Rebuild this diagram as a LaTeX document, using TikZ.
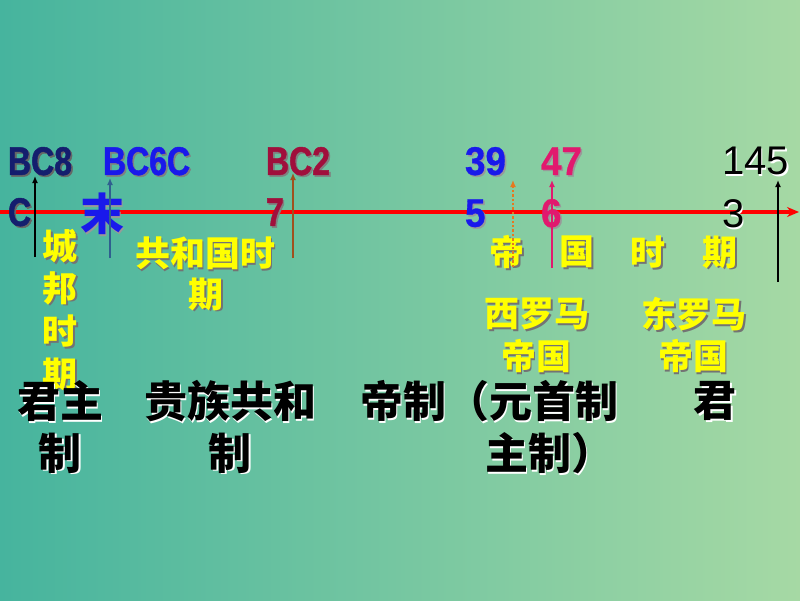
\documentclass[tikz,border=0pt]{standalone}
\usepackage{fontspec}
\setmainfont{Liberation Sans}
\newfontfamily\cjk{Noto Sans CJK SC}
\newfontfamily\latb{Liberation Sans}[FakeStretch=0.8,FakeBold=1.2]
\newfontfamily\latn{Liberation Sans}[FakeStretch=0.92,FakeBold=0.8]
\usetikzlibrary{arrows.meta}
\definecolor{bgl}{RGB}{70,180,158}
\definecolor{bgr}{RGB}{166,217,164}
\definecolor{yl}{RGB}{255,255,0}
\definecolor{navy}{RGB}{20,30,110}
\definecolor{bblue}{RGB}{25,25,235}
\definecolor{dcrim}{RGB}{160,15,60}
\definecolor{pink}{RGB}{225,25,110}
\definecolor{slate}{RGB}{47,95,143}
\definecolor{brn}{RGB}{160,80,30}
\definecolor{orng}{RGB}{230,120,32}
\newcommand\shd[2]{\makebox[0pt][l]{\kern1.6pt\raisebox{-1.6pt}{\color{#1}#2}}#2}
\tikzset{
  lbl/.style={inner sep=0pt, outer sep=0pt},
  bcnum/.style={lbl, anchor=west, font=\latb\bfseries\fontsize{40}{40}\selectfont},
  dnum/.style={lbl, anchor=west, font=\latn\bfseries\fontsize{40}{40}\selectfont},
  rnum/.style={lbl, anchor=west, font=\fontsize{40}{40}\selectfont},
  yel/.style={lbl, text=yl, font=\cjk\bfseries\fontsize{35}{35}\selectfont},
  blk/.style={lbl, text=black, font=\cjk\bfseries\fontsize{43}{43}\selectfont},
  tick/.style={-{Latex[length=7pt,width=6pt]}, line width=2.2pt},
  axisline/.style={red, line width=3.5pt, -{Stealth[length=12pt,width=10pt]}}
}
\begin{document}
\begin{tikzpicture}[x=1pt,y=-1pt]
\useasboundingbox (0,0) rectangle (800,600);
\shade[left color=bgl, right color=bgr] (0,0) rectangle (800,600);

% axis
\coordinate (axs) at (0,212);
\coordinate (axe) at (799,212);
\draw[axisline] (axs) -- (axe);

% dates
\node[bcnum, text=navy] (d1a) at (8,162) {\shd{black!60}{BC8}};
\node[bcnum, text=navy] (d1b) at (8,213) {\shd{black!60}{C}};
\node[bcnum, text=bblue] (d2a) at (103,162) {\shd{black!50}{BC6C}};
\node[lbl, text=bblue, font=\cjk\bfseries\fontsize{44}{44}\selectfont] (d2b) at (102,215) {\shd{black!40}{末}};
\node[bcnum, text=dcrim] (d3a) at (266,162) {\shd{black!50}{BC2}};
\node[bcnum, text=dcrim] (d3b) at (266,213) {\shd{black!50}{7}};
\node[dnum, text=bblue] (d4a) at (465,162) {\shd{black!40}{39}};
\node[dnum, text=bblue] (d4b) at (465,214) {\shd{black!40}{5}};
\node[dnum, text=pink] (d5a) at (541,162) {\shd{black!40}{47}};
\node[dnum, text=pink] (d5b) at (541,214) {\shd{black!40}{6}};
\node[rnum, text=black] (d6a) at (722,162) {\shd{white!70}{145}};
\node[rnum, text=black] (d6b) at (722,215) {\shd{white!70}{3}};

% yellow period labels
\node[yel] (p1a) at (60,247) {\shd{black!55}{城}};
\node[yel] (p1b) at (60,289) {\shd{black!55}{邦}};
\node[yel] (p1c) at (60,332) {\shd{black!55}{时}};
\node[yel] (p1d) at (60,375) {\shd{black!55}{期}};
\node[yel] (p2a) at (205,254) {\shd{black!55}{共和国时}};
\node[yel] (p2b) at (206,295) {\shd{black!55}{期}};
\node[yel] (p3a) at (507,253) {\shd{black!55}{帝}};
\node[yel] (p3b) at (577,253) {\shd{black!55}{国}};
\node[yel] (p3c) at (648,253) {\shd{black!55}{时}};
\node[yel] (p3d) at (720,253) {\shd{black!55}{期}};
\node[yel] (w1) at (537,315) {\shd{black!55}{西罗马}};
\node[yel] (w2) at (536,357) {\shd{black!55}{帝国}};
\node[yel] (e1) at (694,315) {\shd{black!55}{东罗马}};
\node[yel] (e2) at (693,357) {\shd{black!55}{帝国}};

% black regime labels
\node[blk] (r1a) at (60,402) {\shd{white!75}{君主}};
\node[blk] (r1b) at (60,454) {\shd{white!75}{制}};
\node[blk] (r2a) at (230,402) {\shd{white!75}{贵族共和}};
\node[blk] (r2b) at (230,454) {\shd{white!75}{制}};
\node[blk, anchor=west] (r3a) at (360,402) {\shd{white!75}{帝制（元首制}};
\node[blk, anchor=west] (r3b) at (485,454) {\shd{white!75}{主制）}};
\node[blk] (r4a) at (715,402) {\shd{white!75}{君}};

% vertical markers
\coordinate (m1s) at (35,257);  \coordinate (m1e) at (35,176);
\coordinate (m2s) at (110,258); \coordinate (m2e) at (110,178);
\coordinate (m3s) at (293,258); \coordinate (m3e) at (293,173);
\coordinate (m4s) at (513,267); \coordinate (m4e) at (513,180);
\coordinate (m5s) at (552,268); \coordinate (m5e) at (552,180);
\coordinate (m6s) at (778,282); \coordinate (m6e) at (778,180);
\draw[tick, black] (m1s) -- (m1e);
\draw[tick, slate, line width=1.6pt] (m2s) -- (m2e);
\draw[tick, brn, line width=2pt] (m3s) -- (m3e);
\draw[tick, orng, line width=2.4pt, dotted] (m4s) -- (m4e);
\draw[tick, pink] (m5s) -- (m5e);
\draw[tick, black] (m6s) -- (m6e);
\end{tikzpicture}
\end{document}
